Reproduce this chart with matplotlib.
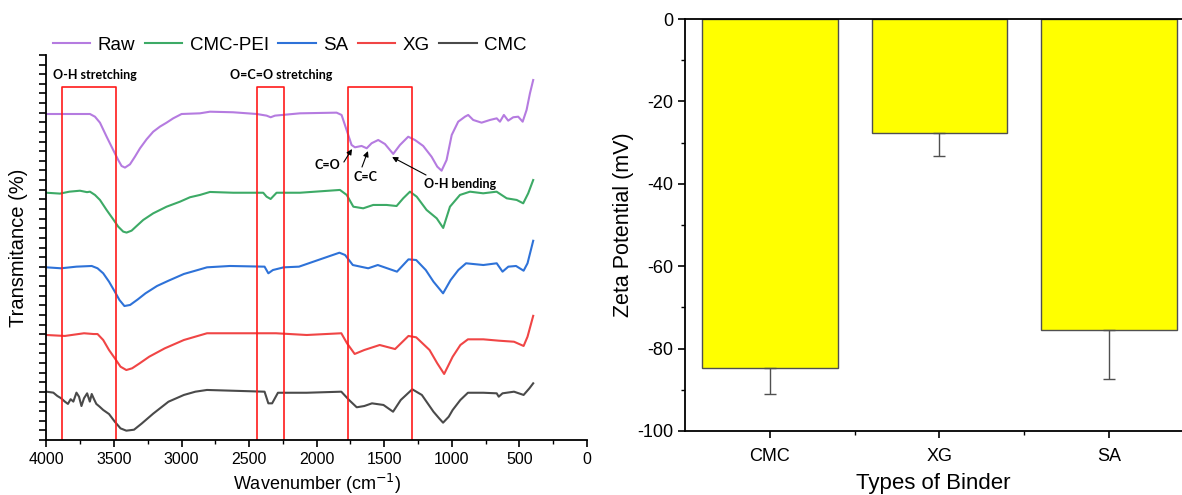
import matplotlib
matplotlib.use("Agg")
import matplotlib.pyplot as plt
from matplotlib.ticker import MultipleLocator, NullFormatter
import numpy as np

plt.rcParams['font.family'] = ['Liberation Sans', 'DejaVu Sans']
plt.rcParams['axes.unicode_minus'] = False

# ---------------- FTIR data (wavenumber, offset transmittance) ----------------
raw_wn = [4000, 3678, 3641, 3604, 3555, 3506, 3469, 3444, 3419, 3382, 3345, 3308, 3259, 3210, 3160,
          3111, 3062, 3000, 2864, 2790, 2620, 2444, 2371, 2341, 2309, 2124, 1853, 1816, 1779, 1742,
          1717, 1668, 1630, 1594, 1545, 1495, 1434, 1384, 1323, 1273, 1212, 1150, 1108, 1076, 1039,
          1001, 953, 903, 879, 842, 780, 718, 668, 644, 615, 583, 546, 509, 476, 447, 422, 398]
raw_t = [338.7, 338.7, 335.9, 329.7, 315.2, 301.3, 290.9, 284.7, 283.0, 286.4, 294.4, 303.0, 312.4, 320.3, 325.6,
         329.7, 334.2, 338.7, 339.4, 341.1, 340.5, 338.7, 337.0, 335.3, 337.0, 339.4, 340.1, 337.7, 322.1, 306.5,
         304.1, 305.5, 303.1, 308.3, 311.7, 307.5, 297.2, 306.5, 315.1, 311.7, 305.5, 294.3, 284.0, 279.8, 290.9,
         316.9, 330.7, 335.9, 337.7, 332.5, 329.7, 332.5, 334.2, 330.7, 337.7, 331.8, 335.3, 335.9, 330.7, 342.9,
         360.2, 374.0]

pei_wn = [4000, 3900, 3830, 3752, 3700, 3678, 3641, 3604, 3555, 3506, 3469, 3432, 3407, 3370, 3333,
          3284, 3210, 3111, 3012, 2938, 2864, 2790, 2618, 2396, 2371, 2341, 2297, 2124, 1828, 1778,
          1729, 1656, 1582, 1483, 1409, 1360, 1310, 1260, 1187, 1112, 1064, 1014, 940, 866, 768,
          669, 594, 520, 472, 435, 398]
pei_t = [256.9, 256.0, 258.0, 259.0, 257.5, 258.0, 254.6, 249.4, 239.0, 229.3, 221.7, 216.5, 215.5, 217.5, 222.3,
         228.6, 235.5, 242.4, 247.6, 252.2, 254.6, 257.7, 256.9, 256.9, 252.8, 250.4, 256.9, 256.9, 259.8, 254.6,
         242.4, 240.7, 244.2, 244.2, 243.1, 251.1, 258.0, 252.8, 239.0, 230.3, 220.3, 242.4, 254.6, 258.0, 256.3,
         258.0, 251.1, 249.4, 245.9, 256.3, 270.1]

sa_wn = [4000, 3892, 3778, 3665, 3622, 3580, 3537, 3494, 3460, 3423, 3381, 3324, 3267, 3182, 3097,
         2983, 2898, 2812, 2642, 2386, 2358, 2324, 2244, 2131, 1989, 1832, 1790, 1733, 1619, 1548,
         1406, 1321, 1264, 1193, 1136, 1065, 1009, 952, 895, 767, 668, 625, 582, 525, 469, 440, 398]
sa_t = [179.4, 178.4, 180.1, 180.8, 178.4, 173.2, 164.5, 154.1, 145.5, 139.2, 140.3, 146.1, 152.4, 160.0, 165.5,
        172.5, 175.9, 179.4, 180.8, 180.1, 173.2, 176.6, 179.4, 180.1, 187.0, 194.6, 192.2, 181.8, 178.4, 181.8,
        174.9, 187.7, 187.0, 176.6, 164.5, 152.4, 166.2, 176.6, 183.6, 181.8, 183.6, 174.9, 180.1, 180.8, 175.9,
        183.6, 207.0]

xg_wn = [4000, 3864, 3722, 3651, 3622, 3580, 3537, 3494, 3452, 3409, 3366, 3310, 3239, 3125, 2983,
         2812, 2500, 2301, 2074, 1818, 1776, 1719, 1648, 1534, 1420, 1321, 1264, 1165, 1108, 1057,
         994, 937, 881, 767, 653, 540, 469, 440, 398]
xg_t = [109.1, 108.1, 110.9, 110.1, 110.1, 103.9, 93.5, 84.9, 76.2, 72.7, 74.5, 79.7, 86.6, 95.2, 103.9,
        110.9, 110.9, 110.9, 109.1, 110.9, 100.5, 89.4, 93.5, 98.7, 94.5, 108.1, 106.7, 93.5, 79.7, 68.6,
        86.5, 98.7, 104.6, 104.6, 103.2, 102.1, 97.7, 107.3, 129.0]

cmc_wn = [4000, 3949, 3920, 3892, 3864, 3841, 3821, 3801, 3778, 3759, 3741, 3722, 3699, 3679, 3665,
          3648, 3631, 3608, 3580, 3537, 3494, 3452, 3409, 3352, 3296, 3210, 3097, 2983, 2898, 2812,
          2386, 2358, 2330, 2287, 2074, 1818, 1761, 1704, 1648, 1591, 1506, 1435, 1378, 1293, 1222,
          1136, 1094, 1065, 1023, 994, 937, 881, 767, 668, 653, 625, 540, 469, 426, 398]
cmc_t = [50.2, 49.2, 45.8, 43.4, 39.9, 37.5, 42.4, 39.9, 49.2, 45.0, 35.3, 43.4, 48.5, 39.9, 47.8,
         42.4, 37.5, 34.8, 31.2, 27.0, 19.0, 12.1, 9.7, 10.7, 17.0, 27.4, 39.8, 46.8, 50.2, 52.0,
         50.2, 38.1, 38.1, 49.1, 49.1, 50.2, 41.6, 34.0, 35.3, 38.1, 36.4, 29.4, 41.6, 52.7, 46.8,
         29.4, 22.5, 18.0, 24.2, 31.2, 41.6, 49.1, 49.1, 48.5, 45.0, 48.5, 50.2, 46.8, 53.7, 58.9]

series_names = ["Raw", "CMC-PEI", "SA", "XG", "CMC"]
series_colors = ["#B57BE0", "#3DAA66", "#2E72D8", "#F04545", "#4A4A4A"]

# highlighted regions (wavenumber ranges)
regions = [(3885, 3485), (2443, 2242), (1770, 1293)]
region_top = 366.8

# ---------------- Zeta potential data ----------------
binders = ["CMC", "XG", "SA"]
zeta = [-84.8, -27.6, -75.5]
zeta_err = [6.3, 5.7, 11.8]

fig = plt.figure(figsize=(11.82, 4.95), dpi=100)

# ---------------- Left: FTIR ----------------
ax = fig.add_axes([0.0393, 0.1111, 0.4573, 0.7778])
data = [(raw_wn, raw_t), (pei_wn, pei_t), (sa_wn, sa_t), (xg_wn, xg_t), (cmc_wn, cmc_t)]
for (wn, t), name, c in zip(data, series_names, series_colors):
    ax.plot(wn, t, color=c, lw=1.5, label=name, solid_joinstyle='round')

for (a, b) in regions:
    ax.plot([a, a, b, b], [0, region_top, region_top, 0], color="#FF1A1A", lw=1.2)

ax.set_xlim(4000, 0)
ax.set_ylim(0, 400)
ax.xaxis.set_major_locator(MultipleLocator(500))
ax.xaxis.set_minor_locator(MultipleLocator(250))
ax.yaxis.set_major_locator(MultipleLocator(10))
ax.yaxis.set_major_formatter(NullFormatter())
ax.spines['top'].set_visible(False)
ax.spines['right'].set_visible(False)
for s in ['left', 'bottom']:
    ax.spines[s].set_linewidth(1.3)
ax.tick_params(axis='x', which='major', direction='out', length=5, width=1.2, labelsize=11.5)
ax.tick_params(axis='x', which='minor', direction='out', length=3, width=1.0)
ax.tick_params(axis='y', which='major', direction='out', length=5, width=1.2)
ax.set_xlabel("Wavenumber (cm$^{-1}$)", fontsize=13, labelpad=4)
ax.set_ylabel("Transmitance (%)", fontsize=14.5, labelpad=5)

leg = ax.legend(loc='center', bbox_to_anchor=(0.45, 1.026), ncol=5, frameon=False,
                fontsize=13.5, handlelength=2.0, handletextpad=0.4, columnspacing=0.5)

bold = dict(family=['Lato', 'DejaVu Sans'], fontweight='bold', fontsize=9)
ax.text(3641, 379, "O-H stretching", ha='center', va='center', **bold)
ax.text(2265, 379, "O=C=O stretching", ha='center', va='center', **bold)
ap = dict(arrowstyle='-|>', color='black', lw=0.8, mutation_scale=8, shrinkA=0, shrinkB=0)
ax.annotate("", xy=(1739, 302.3), xytext=(1799, 288.8), arrowprops=ap)
ax.text(1924, 285.7, "C=O", ha='center', va='center', **bold)
ax.annotate("", xy=(1621, 300.2), xytext=(1665, 283.6), arrowprops=ap)
ax.text(1636, 273.3, "C=C", ha='center', va='center', **bold)
ax.annotate("", xy=(1442, 294.0), xytext=(1191, 275.3), arrowprops=ap)
ax.text(940, 266, "O-H bending", ha='center', va='center', **bold)

# ---------------- Right: Zeta potential ----------------
bx = fig.add_axes([0.5795, 0.1293, 0.4205, 0.8323])
pos = np.arange(len(binders))
bx.bar(pos, zeta, width=0.8, color="#FFFF00", edgecolor="#505050", linewidth=1.0, zorder=2)
bx.errorbar(pos, zeta, yerr=[zeta_err, [0] * len(zeta)], fmt='none', ecolor="#505050",
            elinewidth=1.0, capsize=4, capthick=1.0, zorder=3)
bx.set_xlim(-0.5, 2.43)
bx.set_ylim(-100, 0)
bx.set_xticks(pos)
bx.set_xticklabels(binders)
bx.set_xticks([0.5, 1.5], minor=True)
bx.yaxis.set_major_locator(MultipleLocator(20))
bx.yaxis.set_minor_locator(MultipleLocator(10))
bx.spines['right'].set_visible(False)
for s in ['left', 'bottom', 'top']:
    bx.spines[s].set_linewidth(1.3)
bx.tick_params(axis='both', which='major', direction='out', length=5, width=1.2, labelsize=13)
bx.tick_params(axis='both', which='minor', direction='out', length=3, width=1.0)
bx.tick_params(axis='x', pad=7)
bx.set_xlabel("Types of Binder", fontsize=16, labelpad=6)
bx.set_ylabel("Zeta Potential (mV)", fontsize=15.5, labelpad=2)

fig.savefig("out.png", dpi=100)
